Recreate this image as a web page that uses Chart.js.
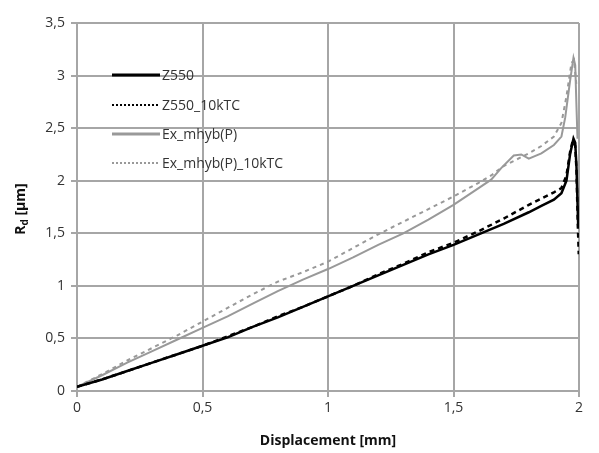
<!DOCTYPE html>
<html>
<head>
<meta charset="utf-8">
<script src="https://cdn.jsdelivr.net/npm/chart.js@4"></script>
<style>
  html, body { margin: 0; padding: 0; background: #fff; }
  #wrap { width: 599px; height: 453px; }
</style>
</head>
<body>
<div id="wrap"><canvas id="myChart" width="599" height="453"></canvas></div>
<script>
// data
const seriesNames = ['Z550', 'Z550_10kTC', 'Ex_mhyb(P)', 'Ex_mhyb(P)_10kTC'];

const xZ550 = [0, 0.1, 0.2, 0.3, 0.4, 0.5, 0.6, 0.7, 0.8, 0.9, 1.0, 1.1, 1.2, 1.3, 1.4, 1.5, 1.6, 1.7, 1.8, 1.85, 1.9, 1.93, 1.95, 1.965, 1.978, 1.985, 1.99, 1.997];
const yZ550 = [0.04, 0.11, 0.19, 0.27, 0.35, 0.43, 0.51, 0.61, 0.70, 0.80, 0.90, 1.00, 1.10, 1.20, 1.30, 1.39, 1.49, 1.59, 1.70, 1.76, 1.82, 1.88, 2.0, 2.26, 2.40, 2.36, 2.13, 1.55];

const xZ550kTC = [0, 0.1, 0.2, 0.3, 0.4, 0.5, 0.6, 0.7, 0.8, 0.9, 1.0, 1.1, 1.2, 1.3, 1.4, 1.5, 1.6, 1.7, 1.8, 1.85, 1.9, 1.93, 1.95, 1.965, 1.975, 1.985, 1.99, 1.995, 1.999];
const yZ550kTC = [0.04, 0.11, 0.19, 0.27, 0.35, 0.43, 0.52, 0.61, 0.71, 0.80, 0.90, 1.00, 1.11, 1.21, 1.32, 1.41, 1.52, 1.64, 1.77, 1.83, 1.89, 1.93, 2.05, 2.28, 2.38, 2.33, 2.10, 1.60, 1.30];

const xMhyb = [0, 0.1, 0.2, 0.3, 0.4, 0.5, 0.6, 0.7, 0.8, 0.9, 1.0, 1.1, 1.2, 1.3, 1.4, 1.5, 1.6, 1.65, 1.69, 1.74, 1.77, 1.8, 1.85, 1.9, 1.93, 1.945, 1.965, 1.978, 1.985, 1.99, 1.994];
const yMhyb = [0.04, 0.15, 0.27, 0.38, 0.49, 0.60, 0.71, 0.83, 0.95, 1.06, 1.16, 1.27, 1.39, 1.50, 1.63, 1.77, 1.93, 2.01, 2.12, 2.24, 2.25, 2.21, 2.26, 2.34, 2.42, 2.60, 2.96, 3.17, 3.10, 2.70, 2.40];

const xMhybkTC = [0, 0.1, 0.2, 0.3, 0.4, 0.5, 0.6, 0.7, 0.8, 0.9, 1.0, 1.1, 1.2, 1.3, 1.4, 1.5, 1.6, 1.65, 1.7, 1.75, 1.8, 1.85, 1.9, 1.93, 1.95, 1.97, 1.98, 1.99];
const yMhybkTC = [0.04, 0.16, 0.29, 0.41, 0.53, 0.66, 0.79, 0.92, 1.04, 1.13, 1.23, 1.36, 1.49, 1.61, 1.73, 1.85, 1.98, 2.05, 2.14, 2.20, 2.26, 2.33, 2.42, 2.55, 2.80, 3.12, 3.15, 2.90];

const xTicks = [0, 0.5, 1, 1.5, 2];
const yTicks = [0, 0.5, 1, 1.5, 2, 2.5, 3, 3.5];

function pts(xs, ys) {
    return xs.map((x, i) => ({ x: x, y: ys[i] }));
}

function comma(v) {
    return String(v).replace('.', ',');
}

const gridGray = '#a6a6a6';
const FONT = "'Open Sans', 'Liberation Sans', sans-serif";

// legend drawn inside the plot, like the original
const innerLegend = {
    id: 'innerLegend',
    afterDatasetsDraw(chart) {
        const ctx = chart.ctx;
        const rows = [75, 105, 134, 163];
        ctx.save();
        chart.data.datasets.forEach((ds, i) => {
            const y = rows[i];
            ctx.beginPath();
            ctx.strokeStyle = ds.borderColor;
            ctx.lineWidth = ds.legendWidth;
            ctx.setLineDash(ds.legendDash);
            ctx.moveTo(112, y);
            ctx.lineTo(160, y);
            ctx.stroke();
            ctx.setLineDash([]);
            ctx.fillStyle = '#333';
            ctx.font = '14px ' + FONT;
            ctx.textBaseline = 'middle';
            ctx.textAlign = 'left';
            ctx.fillText(ds.label, 162, y + 1);
        });
        ctx.restore();
    }
};

// y title with subscript d
const yTitle = {
    id: 'yTitle',
    afterDraw(chart) {
        const ctx = chart.ctx;
        ctx.save();
        ctx.translate(21, 209);
        ctx.rotate(-Math.PI / 2);
        ctx.fillStyle = '#111';
        ctx.textBaseline = 'middle';
        ctx.textAlign = 'left';
        const big = 'bold 14px ' + FONT;
        const small = 'bold 10px ' + FONT;
        ctx.font = big;
        const wR = ctx.measureText('R').width;
        const wRest = ctx.measureText(' [µm]').width;
        ctx.font = small;
        const wd = ctx.measureText('d').width;
        const total = wR + wd + wRest;
        let x = -total / 2;
        ctx.font = big;
        ctx.fillText('R', x, 0);
        x += wR;
        ctx.font = small;
        ctx.fillText('d', x, 4);
        x += wd;
        ctx.font = big;
        ctx.fillText(' [µm]', x, 0);
        ctx.restore();
    }
};

function dataLines() {
    return {
        type: 'line',
        data: {
            datasets: [{
                label: seriesNames[0],
                data: pts(xZ550, yZ550),
                borderColor: '#000',
                borderWidth: 2.5,
                legendWidth: 3,
                legendDash: []
            }, {
                label: seriesNames[1],
                data: pts(xZ550kTC, yZ550kTC),
                borderColor: '#000',
                borderWidth: 2.5,
                borderDash: [5, 4],
                legendWidth: 2,
                legendDash: [2, 2]
            }, {
                label: seriesNames[2],
                data: pts(xMhyb, yMhyb),
                borderColor: '#999',
                borderWidth: 2,
                legendWidth: 3,
                legendDash: []
            }, {
                label: seriesNames[3],
                data: pts(xMhybkTC, yMhybkTC),
                borderColor: '#999',
                borderWidth: 2,
                borderDash: [4, 4],
                legendWidth: 2,
                legendDash: [2, 2]
            }]
        },
        options: {
            responsive: false,
            animation: false,
            layout: { padding: { top: 23, right: 20, left: 0, bottom: 0 } },
            elements: { point: { radius: 0 }, line: { tension: 0 } },
            plugins: { legend: { display: false }, tooltip: { enabled: false } },
            scales: {
                x: {
                    type: 'linear',
                    min: 0,
                    max: 2,
                    afterBuildTicks: s => { s.ticks = xTicks.map(v => ({ value: v })); },
                    afterFit: s => { s.height = 62; },
                    grid: { color: gridGray, lineWidth: 2, tickLength: 6 },
                    border: { color: gridGray, width: 2 },
                    ticks: { color: '#333', font: { family: FONT, size: 14 }, padding: 3, maxRotation: 0, callback: v => comma(v) },
                    title: { display: true, text: 'Displacement [mm]', color: '#111', font: { family: FONT, size: 14, weight: 'bold' }, padding: { top: 1 } }
                },
                y: {
                    min: 0,
                    max: 3.5,
                    afterBuildTicks: s => { s.ticks = yTicks.map(v => ({ value: v })); },
                    afterFit: s => { s.width = 77; },
                    grid: { color: gridGray, lineWidth: 2, tickLength: 6 },
                    border: { color: gridGray, width: 2 },
                    ticks: { color: '#333', font: { family: FONT, size: 14 }, padding: 6, callback: v => comma(v) }
                }
            }
        },
        plugins: [innerLegend, yTitle]
    };
}

const ctx = document.getElementById('myChart').getContext('2d');
const myChart = new Chart(ctx, dataLines());
</script>
</body>
</html>
